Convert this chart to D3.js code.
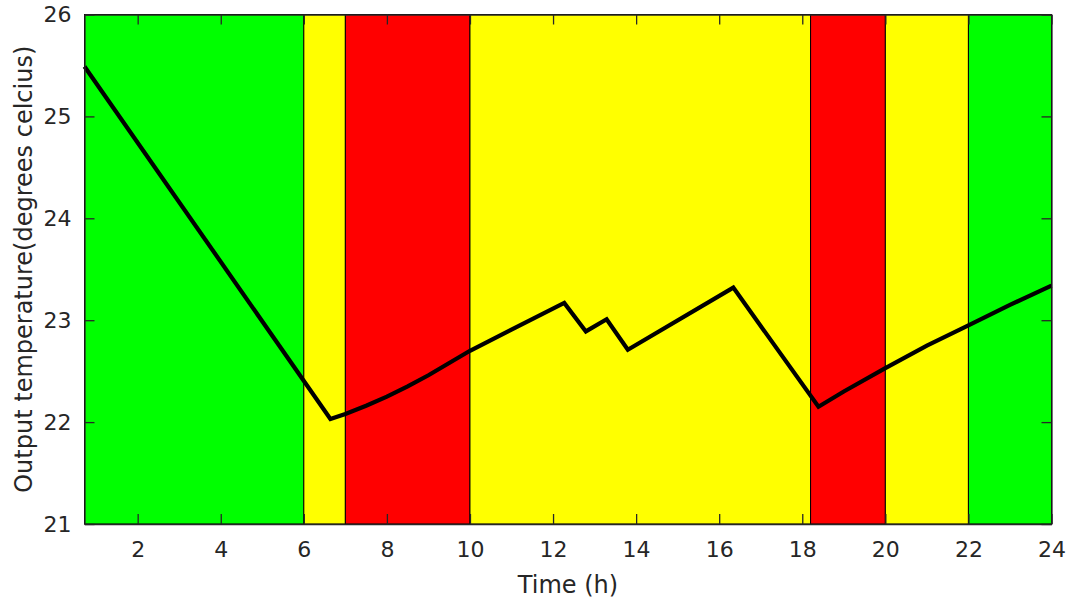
<!DOCTYPE html>
<html>
<head>
<meta charset="utf-8">
<script src="https://cdn.jsdelivr.net/npm/d3@7"></script>
<style>
body { margin: 0; background: #fff; }
text { font-family: "DejaVu Sans", sans-serif; fill: #262626; }
</style>
</head>
<body>
<div class="chart"></div>
<script>
// band periods (hours) and their colours
var bandStart = [0.72, 6, 7, 10, 18.2, 20, 22];
var bandEnd   = [6, 7, 10, 18.2, 20, 22, 24];
var bandColor = ["#00ff00", "#ffff00", "#ff0000", "#ffff00", "#ff0000", "#ffff00", "#00ff00"];

// output temperature series
var timeH = [0.72, 6.64, 7, 7.5, 8, 8.5, 9, 9.5, 10, 12.27, 12.79, 13.29, 13.80, 16.34, 18.39, 19, 20, 21, 22, 23, 24];
var tempC = [25.49, 22.03, 22.08, 22.16, 22.25, 22.35, 22.46, 22.58, 22.70, 23.17, 22.89, 23.01, 22.71, 23.32, 22.15, 22.30, 22.53, 22.75, 22.95, 23.15, 23.34];

var xTicks = [2, 4, 6, 8, 10, 12, 14, 16, 18, 20, 22, 24];
var yTicks = [21, 22, 23, 24, 25, 26];

var fullWidth = 1070, fullHeight = 605;
var margin = {top: 14.5, right: 18.5, bottom: 81, left: 84.5};
var width = fullWidth - margin.left - margin.right,
    height = fullHeight - margin.top - margin.bottom;

var svg = d3.select(".chart")
    .append("svg")
    .attr("width", fullWidth)
    .attr("height", fullHeight)
    .append("g")
    .attr("transform", "translate(" + margin.left + "," + margin.top + ")");

var x = d3.scaleLinear().domain([0.72, 24]).range([0, width]);
var y = d3.scaleLinear().domain([21, 26]).range([height, 0]);

// coloured bands
svg.selectAll("rect.band")
    .data(bandStart)
    .enter()
    .append("rect")
    .attr("class", "band")
    .attr("x", (d) => x(d))
    .attr("y", 0)
    .attr("width", (d, i) => x(bandEnd[i]) - x(d))
    .attr("height", height)
    .attr("fill", (d, i) => bandColor[i])
    .attr("stroke", "#000")
    .attr("stroke-width", 1);

// temperature line
var pts = timeH.map((t, i) => [t, tempC[i]]);
svg.append("path")
    .datum(pts)
    .attr("fill", "none")
    .attr("stroke", "#000")
    .attr("stroke-width", 4.2)
    .attr("stroke-linejoin", "miter")
    .attr("d", d3.line().x((d) => x(d[0])).y((d) => y(d[1])));

// axes, ticks inside, box on
var fmt = d3.format("d");
function styleAxis(g) {
    g.select(".domain").attr("stroke", "#262626").attr("stroke-width", 1.3);
    g.selectAll(".tick line").attr("stroke", "#262626").attr("stroke-width", 1.3);
    g.selectAll(".tick text").style("font-size", "22px").attr("fill", "#262626")
        .style("font-family", "DejaVu Sans, sans-serif");
}

svg.append("g")
    .attr("transform", "translate(0," + height + ")")
    .call(d3.axisBottom(x).tickValues(xTicks).tickFormat(fmt).tickSizeInner(-10).tickSizeOuter(0).tickPadding(17))
    .call(styleAxis);

svg.append("g")
    .call(d3.axisTop(x).tickValues(xTicks).tickSizeInner(-10).tickSizeOuter(0).tickFormat(""))
    .call(styleAxis);

svg.append("g")
    .call(d3.axisLeft(y).tickValues(yTicks).tickFormat(fmt).tickSizeInner(-10).tickSizeOuter(0).tickPadding(13))
    .call(styleAxis);

svg.append("g")
    .attr("transform", "translate(" + width + ",0)")
    .call(d3.axisRight(y).tickValues(yTicks).tickSizeInner(-10).tickSizeOuter(0).tickFormat(""))
    .call(styleAxis);

// axis labels
svg.append("text")
    .attr("x", width / 2)
    .attr("y", height + 69)
    .attr("text-anchor", "middle")
    .style("font-size", "24px")
    .text("Time (h)");

svg.append("text")
    .attr("transform", "translate(" + (-53) + "," + (height / 2) + ") rotate(-90)")
    .attr("text-anchor", "middle")
    .style("font-size", "24px")
    .text("Output temperature(degrees celcius)");
</script>
</body>
</html>
